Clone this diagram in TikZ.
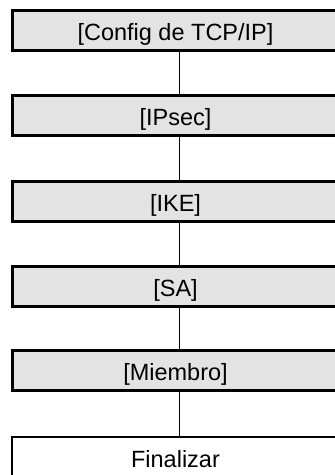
\documentclass[tikz,border=0pt]{standalone}
\usepackage{fontspec}
\setmainfont{Liberation Sans}
\newcommand{\lbl}[1]{#1\kern7pt}
\begin{document}
\begin{tikzpicture}[x=1pt,y=-1pt,
  menubox/.style={draw=black, line width=3pt, fill=black!11, rectangle,
    minimum width=333pt, minimum height=40pt, inner sep=0pt,
    text height=20pt, text depth=0pt,
    font=\fontsize{23.5}{27}\selectfont},
  endbox/.style={draw=black, line width=2pt, fill=white, rectangle,
    minimum width=334pt, minimum height=40pt, inner sep=0pt,
    text height=20pt, text depth=0pt,
    font=\fontsize{23.5}{27}\selectfont},
  link/.style={draw=black, line width=1pt}]
\useasboundingbox (0,0) rectangle (335,475);
\node[menubox] (b1) at (179,30.8) {\lbl{[Config de TCP/IP]}};
\node[menubox] (b2) at (179,115.5) {\lbl{[IPsec]}};
\node[menubox] (b3) at (179,201) {\lbl{[IKE]}};
\node[menubox] (b4) at (179,286) {\lbl{[SA]}};
\node[menubox] (b5) at (179,370.5) {\lbl{[Miembro]}};
\node[endbox] (b6) at (179,457) {\lbl{Finalizar}};
\draw[link] (b1.south) -- (b2.north);
\draw[link] (b2.south) -- (b3.north);
\draw[link] (b3.south) -- (b4.north);
\draw[link] (b4.south) -- (b5.north);
\draw[link] (b5.south) -- (b6.north);
\end{tikzpicture}
\end{document}
